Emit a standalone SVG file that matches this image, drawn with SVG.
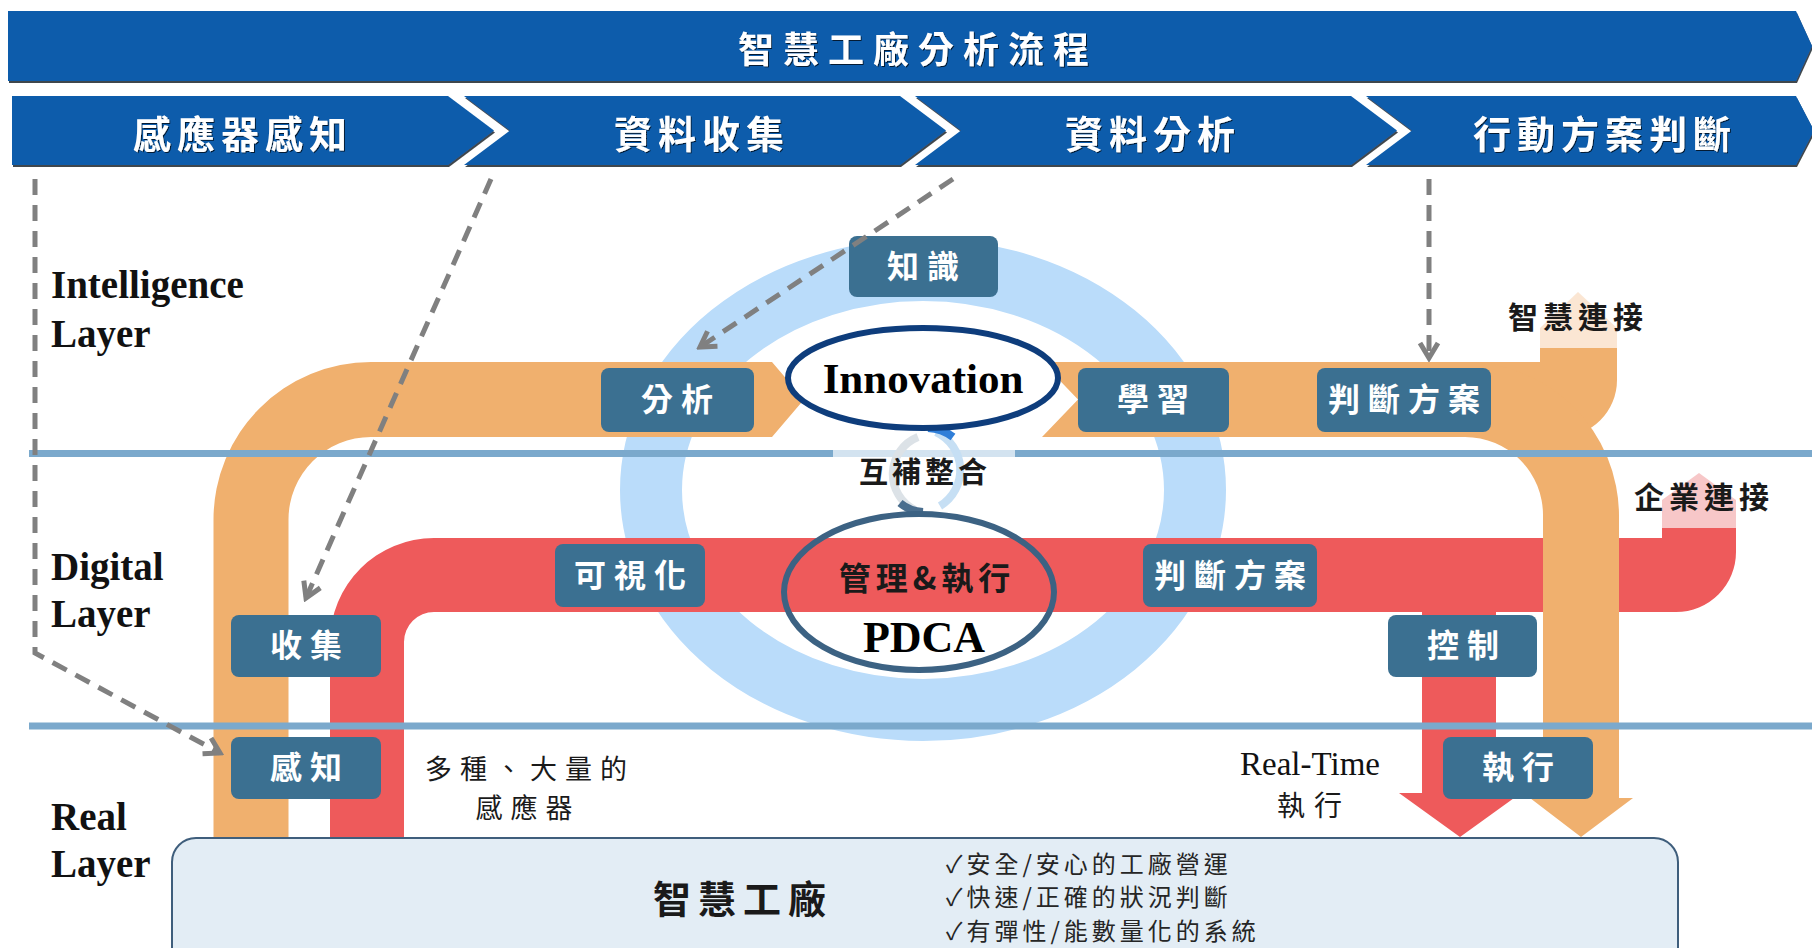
<svg xmlns="http://www.w3.org/2000/svg" width="1812" height="948" viewBox="0 0 1812 948">
<defs>
<style>
.bn{fill:#0A5BAB}
.bt{fill:#fff;font-family:"Noto Sans CJK TC",sans-serif;font-weight:700;text-anchor:middle}
.box{fill:#3B7091}
.btx{fill:#fff;font-family:"Noto Sans CJK TC",sans-serif;font-weight:700;font-size:32px;letter-spacing:8px;text-anchor:middle}
.lay{fill:#111;font-family:"Liberation Serif",serif;font-weight:700;font-size:39px}
.cj{fill:#1a1a1a;font-family:"Noto Sans CJK TC",sans-serif;text-anchor:middle}
.dash{fill:none;stroke:#808080;stroke-width:5;stroke-dasharray:16 10}
.hl{stroke:#7BA9CC;stroke-width:7}
</style>
<filter id="sh" x="-5%" y="-20%" width="110%" height="150%">
<feDropShadow dx="1" dy="2" stdDeviation="0.6" flood-color="#101820" flood-opacity="0.8"/>
</filter>
<filter id="tsh" x="-5%" y="-20%" width="110%" height="140%">
<feDropShadow dx="1" dy="1" stdDeviation="0.7" flood-color="#000" flood-opacity="0.7"/>
</filter>
<marker id="ah" viewBox="0 0 24 24" refX="20" refY="12" markerWidth="24" markerHeight="24" markerUnits="userSpaceOnUse" orient="auto">
<path d="M5,3 L20,12 L5,21" fill="none" stroke="#808080" stroke-width="5"/>
</marker>
</defs>
<rect width="1812" height="948" fill="#fff"/>

<g id="header">
<polygon class="bn" filter="url(#sh)" points="8,11 1796,11 1812,46 1796,81 8,81"/>
<text class="bt" filter="url(#tsh)" x="918" y="63" font-size="36" letter-spacing="9">智慧工廠分析流程</text>
</g>
<g id="step1">
<polygon class="bn" filter="url(#sh)" points="12,96 448,96 494,130.5 448,165 12,165"/>
<text class="bt" filter="url(#tsh)" x="243" y="148" font-size="38" letter-spacing="6">感應器感知</text>
</g>
<g id="step2">
<polygon class="bn" filter="url(#sh)" points="464,96 900,96 946,130.5 900,165 464,165 510,130.5"/>
<text class="bt" filter="url(#tsh)" x="702" y="148" font-size="38" letter-spacing="6">資料收集</text>
</g>
<g id="step3">
<polygon class="bn" filter="url(#sh)" points="915,96 1351,96 1397,130.5 1351,165 915,165 961,130.5"/>
<text class="bt" filter="url(#tsh)" x="1153" y="148" font-size="38" letter-spacing="6">資料分析</text>
</g>
<g id="step4">
<polygon class="bn" filter="url(#sh)" points="1366,96 1796,96 1814,130.5 1796,165 1366,165 1412,130.5"/>
<text class="bt" filter="url(#tsh)" x="1605" y="148" font-size="38" letter-spacing="6">行動方案判斷</text>
</g>

<g id="ring">
<ellipse cx="923" cy="490" rx="272" ry="220" fill="none" stroke="#BADCFA" stroke-width="62"/>
</g>

<g id="red-flow">
<path fill="#EE5A5B" d="M330 845 V642 A104 104 0 0 1 434 538 H1662 V528 H1736 V552 A60 60 0 0 1 1676 612 H434 A30 30 0 0 0 404 642 V845 Z"/>
<path fill="#F7C7C8" d="M1662 528 V500 L1699 473 L1736 500 V528 Z"/>
<path fill="#EE5A5B" d="M1422 600 H1496 V793 H1521 L1460 837 L1399 793 H1422 Z"/>
</g>

<g id="orange-flow">
<path fill="#F0B06E" d="M213.5 845 V519.5 A157.5 157.5 0 0 1 371 362 H772 L804 399.5 L772 437 H371 A82.5 82.5 0 0 0 288.5 519.5 V845 Z"/>
<path fill="#F0B06E" d="M1042 362 L1078 399.5 L1042 437 H1560 A57 57 0 0 0 1617 380 V348 H1540 V362 Z"/>
<path fill="#FBE6D3" d="M1540 348 V328 L1578 292 L1617 328 V348 Z"/>
<path fill="#F0B06E" d="M1465 362 A154 154 0 0 1 1619 516 V798 H1633 L1581 837 L1530 798 H1543 V516 A78 78 0 0 0 1465 437 Z"/>
</g>

<g id="layer-lines">
<line class="hl" x1="29" y1="453.5" x2="833" y2="453.5"/>
<line x1="833" y1="453.5" x2="1015" y2="453.5" stroke="#D3E3F0" stroke-width="7"/>
<line class="hl" x1="1015" y1="453.5" x2="1812" y2="453.5"/>
<line class="hl" x1="29" y1="726" x2="1812" y2="726" stroke-width="6"/>
</g>

<g id="layer-labels">
<text class="lay" x="51" y="298">Intelligence</text>
<text class="lay" x="51" y="347">Layer</text>
<text class="lay" x="51" y="580">Digital</text>
<text class="lay" x="51" y="627">Layer</text>
<text class="lay" x="51" y="830">Real</text>
<text class="lay" x="51" y="877">Layer</text>
</g>

<g id="swirl" fill="none" stroke-width="8">
<path d="M936 432 A42 42 0 0 1 940 506" stroke="#C6DFF4"/>
<path d="M928 428 A45 45 0 0 1 953 437" stroke="#2F7ED8"/>
<path d="M915 510 A40 40 0 0 1 918 437" stroke="#DCE2E7"/>
<path d="M900 503 A40 40 0 0 0 923 512" stroke="#4A6E8E"/>
</g>

<g id="innovation">
<ellipse cx="923" cy="378" rx="135" ry="50" fill="#fff" stroke="#0E3D7C" stroke-width="6"/>
<text x="923" y="393" fill="#000" font-family="Liberation Serif, serif" font-weight="700" font-size="43" text-anchor="middle">Innovation</text>
</g>
<g id="integrate">
<text class="cj" x="925" y="483" font-size="29" font-weight="700" letter-spacing="4">互補整合</text>
</g>
<g id="pdca">
<ellipse cx="919" cy="592" rx="135" ry="78" fill="none" stroke="#3C6283" stroke-width="6"/>
<text class="cj" x="927" y="590" font-size="32" font-weight="700" letter-spacing="5" fill="#2a0c0c">管理&amp;執行</text>
<text x="924" y="652" fill="#000" font-family="Liberation Serif, serif" font-weight="700" font-size="44" text-anchor="middle">PDCA</text>
</g>

<g id="n-knowledge"><rect class="box" x="849" y="236" width="149" height="61" rx="8"/><text class="btx" x="927" y="278">知識</text></g>
<g id="n-analysis"><rect class="box" x="601" y="368" width="153" height="64" rx="8"/><text class="btx" x="681" y="411">分析</text></g>
<g id="n-learn"><rect class="box" x="1078" y="368" width="151" height="64" rx="8"/><text class="btx" x="1157" y="411">學習</text></g>
<g id="n-judge1"><rect class="box" x="1317" y="368" width="174" height="64" rx="8"/><text class="btx" x="1408" y="411">判斷方案</text></g>
<g id="n-collect"><rect class="box" x="231" y="615" width="150" height="62" rx="8"/><text class="btx" x="310" y="657">收集</text></g>
<g id="n-sense"><rect class="box" x="231" y="737" width="150" height="62" rx="8"/><text class="btx" x="310" y="779">感知</text></g>
<g id="n-visual"><rect class="box" x="555" y="544" width="150" height="63" rx="8"/><text class="btx" x="634" y="587">可視化</text></g>
<g id="n-judge2"><rect class="box" x="1143" y="544" width="174" height="63" rx="8"/><text class="btx" x="1234" y="587">判斷方案</text></g>
<g id="n-control"><rect class="box" x="1388" y="615" width="149" height="62" rx="8"/><text class="btx" x="1467" y="657">控制</text></g>
<g id="n-exec"><rect class="box" x="1443" y="737" width="150" height="62" rx="8"/><text class="btx" x="1522" y="779">執行</text></g>

<g id="labels">
<text class="cj" x="1578" y="328" font-size="30" font-weight="700" letter-spacing="5">智慧連接</text>
<text class="cj" x="1704" y="508" font-size="30" font-weight="700" letter-spacing="5">企業連接</text>
<text class="cj" x="530" y="779" font-size="27" letter-spacing="8" fill="#333">多種、大量的</text>
<text class="cj" x="528" y="818" font-size="27" letter-spacing="8" fill="#333">感應器</text>
<text x="1310" y="775" fill="#111" font-family="Liberation Serif, serif" font-size="33" text-anchor="middle">Real-Time</text>
<text class="cj" x="1314" y="816" font-size="28" letter-spacing="9" fill="#333">執行</text>
</g>

<g id="smart-factory">
<rect x="172" y="838" width="1506" height="140" rx="24" fill="#E3EDF5" stroke="#3F5E7C" stroke-width="2"/>
<text class="cj" x="743" y="913" font-size="38" font-weight="700" letter-spacing="7">智慧工廠</text>
<g font-family="Noto Sans CJK TC, sans-serif" font-size="24" fill="#262626" letter-spacing="4">
<text x="946" y="873">✓安全/安心的工廠營運</text>
<text x="946" y="906">✓快速/正確的狀況判斷</text>
<text x="946" y="940">✓有彈性/能數量化的系統</text>
</g>
</g>

<g id="connectors">
<path class="dash" d="M35 179 V653 L220 753" marker-end="url(#ah)"/>
<path class="dash" d="M491 179 L306 598" marker-end="url(#ah)"/>
<path class="dash" d="M953 179 L700 347" marker-end="url(#ah)"/>
<path class="dash" d="M1429 179 V358" marker-end="url(#ah)"/>
</g>
</svg>
